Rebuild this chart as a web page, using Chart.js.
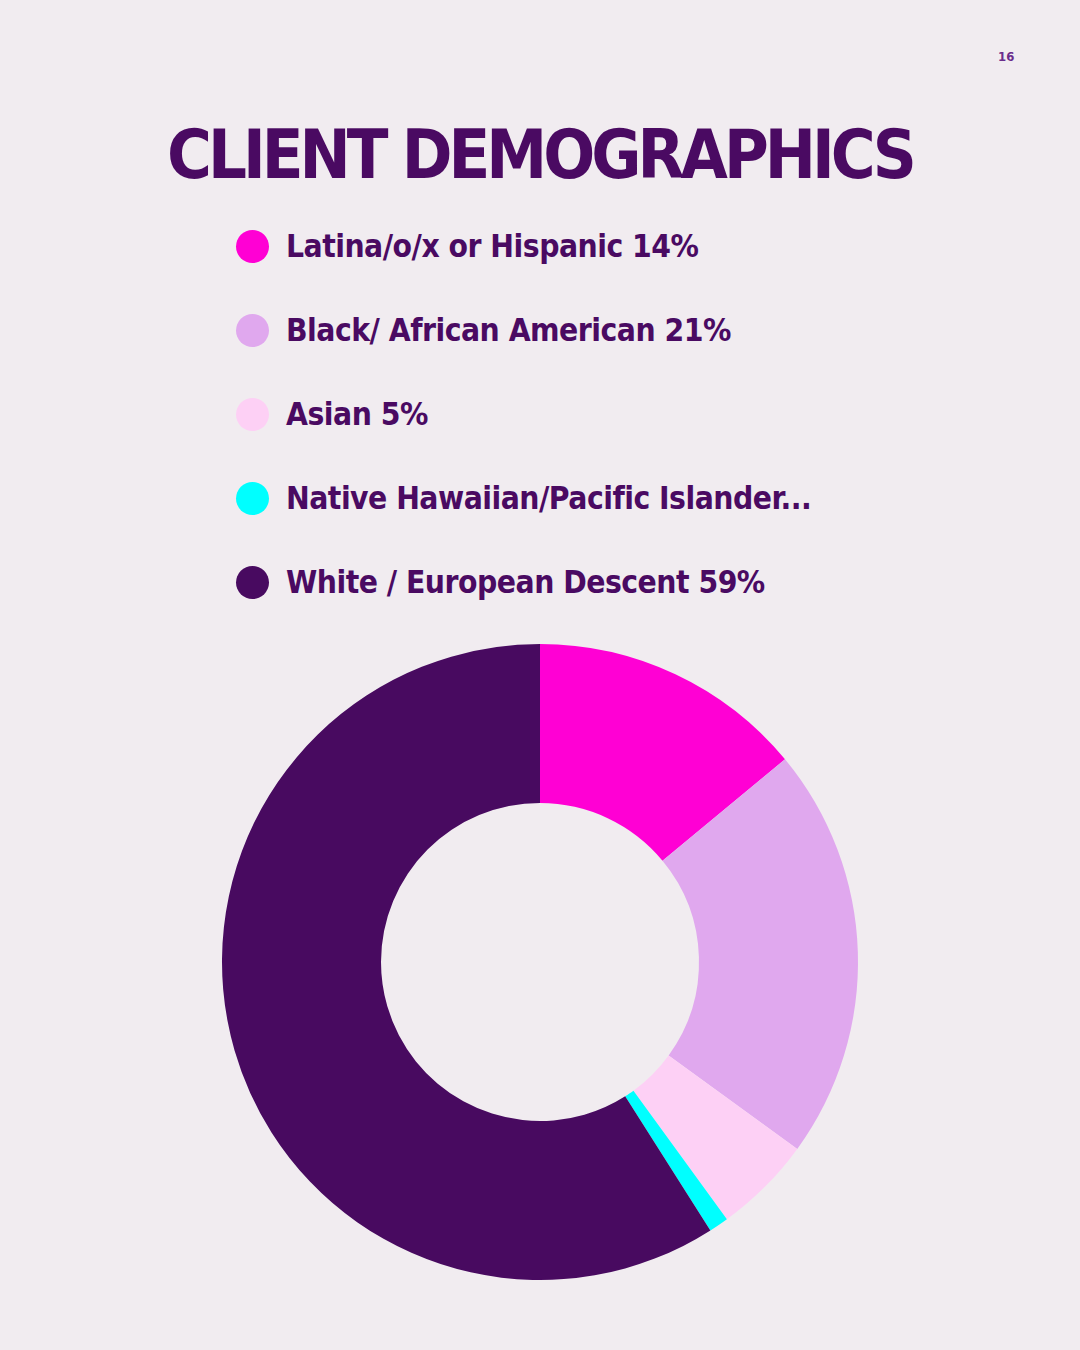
<!DOCTYPE html>
<html lang="en">
<head>
  <meta charset="UTF-8">
  <title>Client Demographics</title>
  <script src="https://cdn.jsdelivr.net/npm/chart.js"></script>
  <style>
    html, body {
      margin: 0;
      padding: 0;
      width: 1080px;
      height: 1350px;
      background: #f1ecf0;
      overflow: hidden;
      font-family: "DejaVu Sans Condensed", "DejaVu Sans", sans-serif;
      color: #4a0a62;
    }
    #page-num {
      position: absolute;
      left: 998px;
      top: 49px;
      font-size: 13px;
      font-weight: bold;
      color: #6b2d8c;
    }
    h1 {
      position: absolute;
      left: 0;
      top: 115px;
      width: 1080px;
      margin: 0;
      text-align: center;
      font-size: 68px;
      font-weight: bold;
      letter-spacing: -4px;
      line-height: 80px;
    }
    #legend {
      position: absolute;
      left: 236px;
      top: 204px;
      margin: 0;
      padding: 0;
      list-style: none;
    }
    #legend li {
      display: flex;
      align-items: center;
      height: 84px;
      font-size: 31.5px;
      font-weight: bold;
      letter-spacing: -0.5px;
      white-space: nowrap;
    }
    #legend .dot {
      width: 33px;
      height: 33px;
      border-radius: 50%;
      margin-right: 17px;
      flex: none;
    }
    #chart-wrap {
      position: absolute;
      left: 0;
      top: 644px;
      width: 1080px;
      height: 636px;
    }
  </style>
</head>
<body>
  <div id="page-num">16</div>
  <h1>CLIENT DEMOGRAPHICS</h1>
  <ul id="legend"></ul>
  <div id="chart-wrap"><canvas id="canvas"></canvas></div>

  <script>
    const categories = [
      "Latina/o/x or Hispanic 14%",
      "Black/ African American 21%",
      "Asian 5%",
      "Native Hawaiian/Pacific Islander...",
      "White / European Descent 59%"
    ];
    const shares = [14, 21, 5, 1, 59];
    const sliceColors = ["#ff00d4", "#e0a8ee", "#fdd0f5", "#00ffff", "#480a60"];

    const ctx = document.getElementById("canvas").getContext("2d");
    const chart = new Chart(ctx, {
      type: "doughnut",
      data: {
        labels: categories,
        datasets: [{
          data: shares,
          backgroundColor: sliceColors,
          borderWidth: 0
        }]
      },
      options: {
        responsive: true,
        maintainAspectRatio: false,
        animation: false,
        cutout: "50%",
        plugins: {
          legend: { display: false },
          tooltip: { enabled: false }
        }
      }
    });

    // html legend, one item per row
    const legendEl = document.getElementById("legend");
    chart.options.plugins.legend.labels.generateLabels(chart).forEach(item => {
      const li = document.createElement("li");
      const dot = document.createElement("span");
      dot.className = "dot";
      dot.style.background = item.fillStyle;
      li.appendChild(dot);
      li.appendChild(document.createTextNode(item.text));
      legendEl.appendChild(li);
    });
  </script>
</body>
</html>
